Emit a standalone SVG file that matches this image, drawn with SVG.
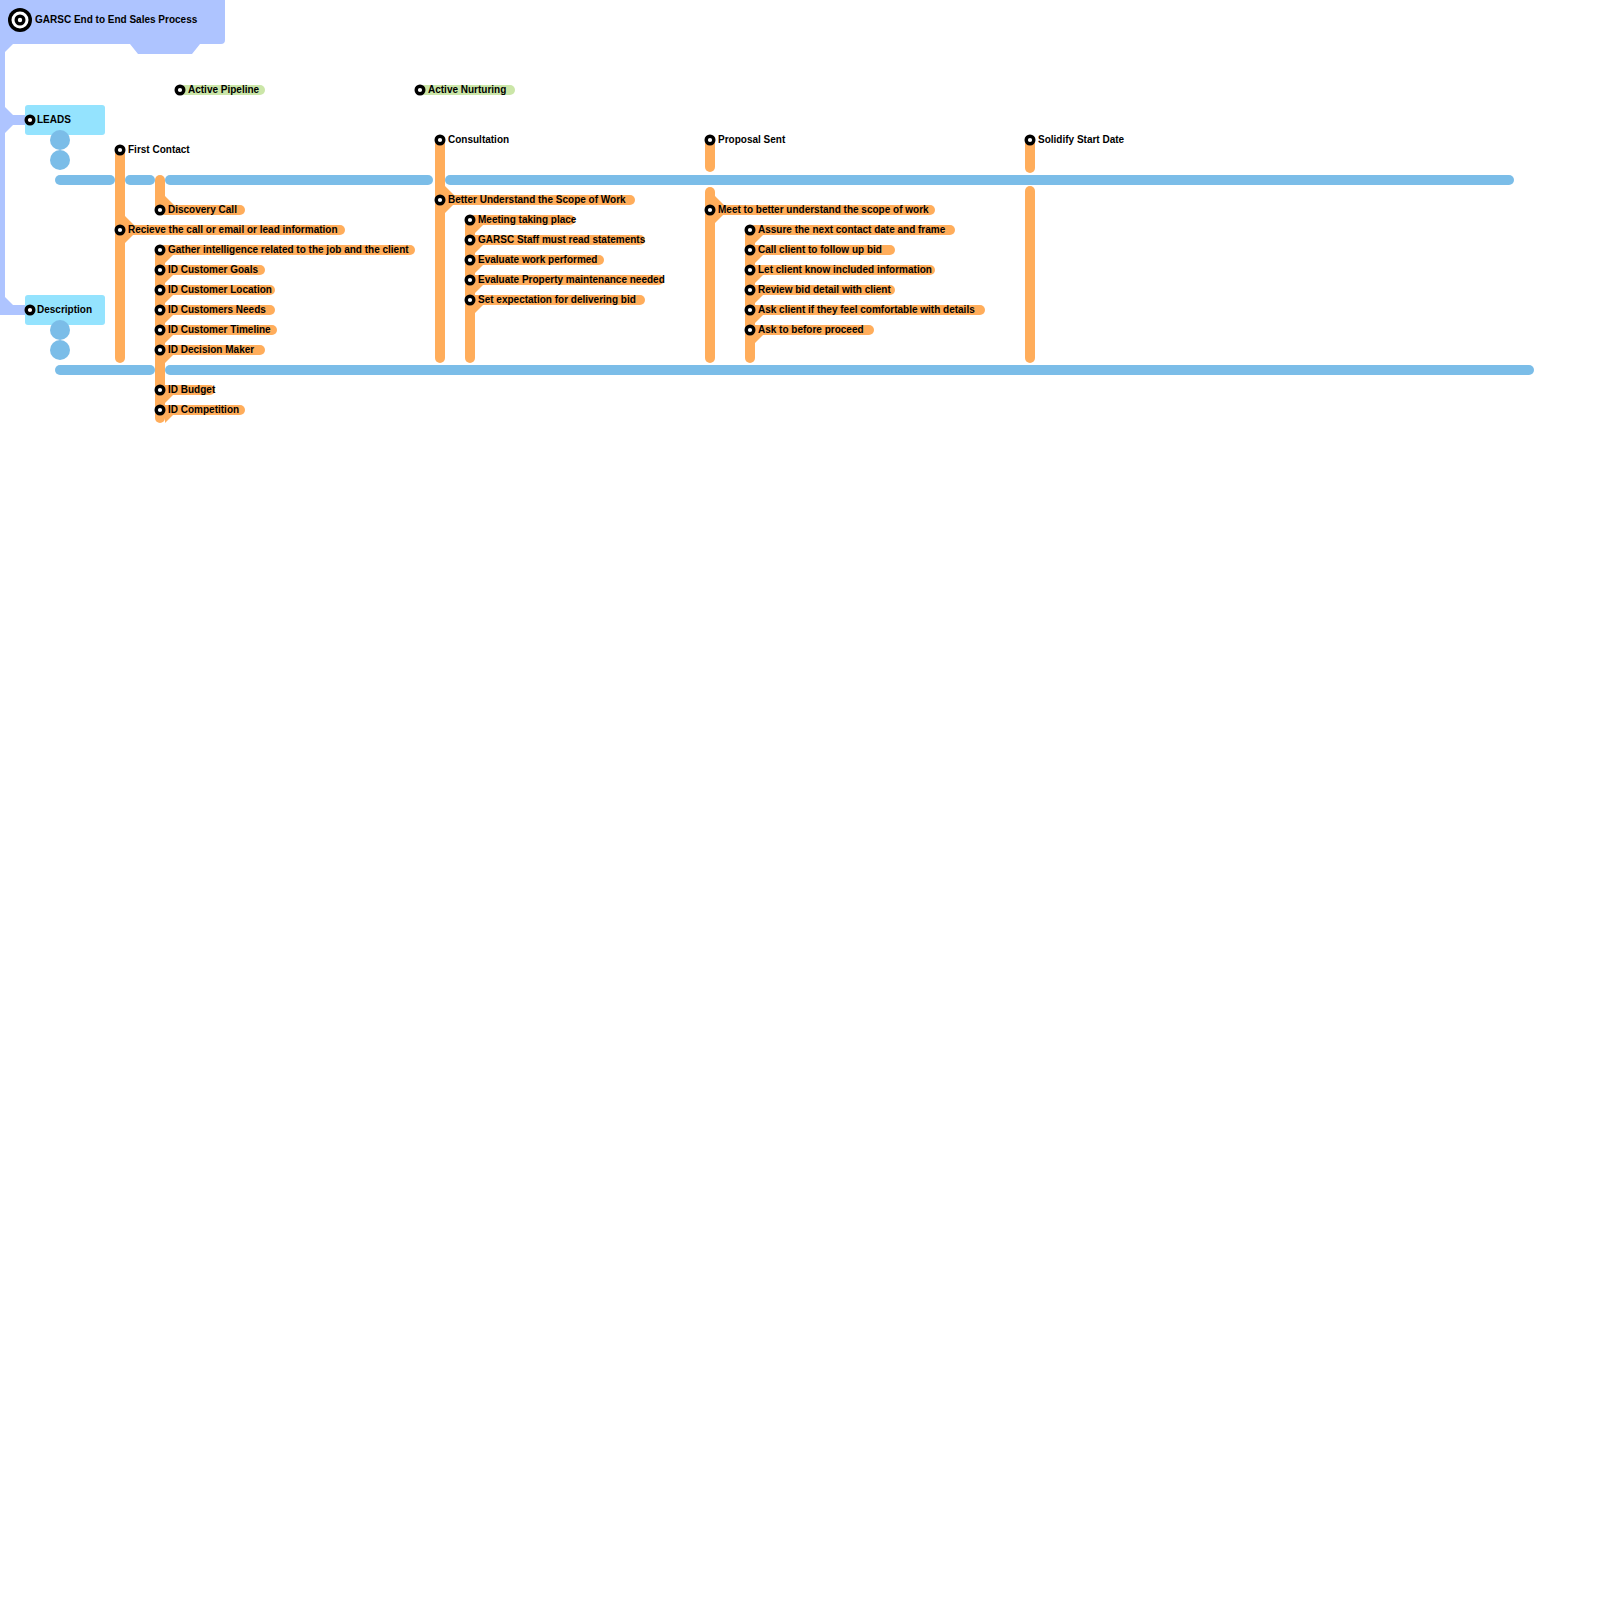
<svg xmlns="http://www.w3.org/2000/svg" width="1600" height="1600" viewBox="0 0 1600 1600">
<style>
.t{font-family:"Liberation Sans",Arial,sans-serif;font-weight:bold;font-size:10px;fill:#000}
.st{fill:#fff;stroke:#000;stroke-width:3.4}
.p{fill:#FFAD5B}
.g{fill:#CBE6A8}
.ov{stroke:#FFAD5B;stroke-width:10;stroke-linecap:round;fill:none}
.bl{stroke:#7BBDE8;stroke-width:10;stroke-linecap:round;fill:none}
.bc{fill:#7BBDE8}
.lav{fill:#AEC4FF}
.box{fill:#94E3FE}
</style>
<rect width="1600" height="1600" fill="#fff"/>
<g id="connectors">
  <path class="lav" d="M0,44 H13 L5,52 V107 L13,115 H25 V125 H13 L5,133 V297 L13,305 H25 V315 H0 Z"/>
  <line class="bl" x1="60" y1="180" x2="110" y2="180"/>
  <line class="bl" x1="130" y1="180" x2="150" y2="180"/>
  <line class="bl" x1="170" y1="180" x2="428" y2="180"/>
  <line class="bl" x1="450" y1="180" x2="1509" y2="180"/>
  <line class="bl" x1="60" y1="370" x2="150" y2="370"/>
  <line class="bl" x1="170" y1="370" x2="1529" y2="370"/>
  <line class="ov" x1="120" y1="150" x2="120" y2="358"/>
  <line class="ov" x1="160" y1="180" x2="160" y2="210"/>
  <line class="ov" x1="160" y1="250" x2="160" y2="418"/>
  <line class="ov" x1="440" y1="140" x2="440" y2="358"/>
  <line class="ov" x1="470" y1="220" x2="470" y2="358"/>
  <line class="ov" x1="710" y1="140" x2="710" y2="167"/>
  <line class="ov" x1="710" y1="192" x2="710" y2="358"/>
  <line class="ov" x1="750" y1="230" x2="750" y2="358"/>
  <line class="ov" x1="1030" y1="140" x2="1030" y2="168"/>
  <line class="ov" x1="1030" y1="191" x2="1030" y2="358"/>
  <path class="p" d="M125,216 L134,225 H125 Z M165,196 L174,205 H165 Z M445,186 L454,195 H445 Z M715,196 L724,205 H715 Z"/>
  <path class="p" d="M125,235 H133 L125,243 Z
    M165,255 H173 L165,263 Z M165,275 H173 L165,283 Z M165,295 H173 L165,303 Z M165,315 H173 L165,323 Z M165,335 H173 L165,343 Z M165,355 H173 L165,363 Z M165,395 H173 L165,403 Z M165,415 H173 L165,423 Z
    M445,205 H453 L445,213 Z
    M475,225 H483 L475,233 Z M475,245 H483 L475,253 Z M475,265 H483 L475,273 Z M475,285 H483 L475,293 Z M475,305 H483 L475,313 Z
    M715,215 H723 L715,223 Z
    M755,235 H763 L755,243 Z M755,255 H763 L755,263 Z M755,275 H763 L755,283 Z M755,295 H763 L755,303 Z M755,315 H763 L755,323 Z M755,335 H763 L755,343 Z"/>
</g>
<g id="title">
  <path class="lav" d="M0,0 H225 V40 Q225,44 221,44 H200 L192,54 H138 L130,44 H0 Z"/>
  <circle cx="20" cy="20" r="12" fill="#000"/>
  <circle cx="20" cy="20" r="8.5" fill="#fff"/>
  <circle cx="20" cy="20" r="5.5" fill="#000"/>
  <circle cx="20" cy="20" r="2.2" fill="#fff"/>
  <text class="t" x="35" y="22.5">GARSC End to End Sales Process</text>
</g>
<g id="leads">
  <rect class="box" x="25" y="105" width="80" height="30" rx="3"/>
  <circle class="st" cx="30" cy="120" r="3.8"/>
  <text class="t" x="37" y="123">LEADS</text>
  <circle class="bc" cx="60" cy="140" r="10"/>
  <circle class="bc" cx="60" cy="160" r="10"/>
</g>
<g id="description">
  <rect class="box" x="25" y="295" width="80" height="30" rx="3"/>
  <circle class="st" cx="30" cy="310" r="3.8"/>
  <text class="t" x="37" y="313">Description</text>
  <circle class="bc" cx="60" cy="330" r="10"/>
  <circle class="bc" cx="60" cy="350" r="10"/>
</g>
<g id="active-pipeline">
  <rect class="g" x="180" y="85" width="85" height="10" rx="5"/>
  <circle class="st" cx="180" cy="90" r="3.8"/>
  <text class="t" x="188" y="93">Active Pipeline</text>
</g>
<g id="active-nurturing">
  <rect class="g" x="420" y="85" width="95" height="10" rx="5"/>
  <circle class="st" cx="420" cy="90" r="3.8"/>
  <text class="t" x="428" y="93">Active Nurturing</text>
</g>
<g id="first-contact">
  <circle class="st" cx="120" cy="150" r="3.8"/>
  <text class="t" x="128" y="153">First Contact</text>
</g>
<g id="recieve">
  <rect class="p" x="120" y="225" width="225" height="10" rx="5"/>
  <circle class="st" cx="120" cy="230" r="3.8"/>
  <text class="t" x="128" y="233">Recieve the call or email or lead information</text>
</g>
<g id="discovery-call">
  <rect class="p" x="160" y="205" width="85" height="10" rx="5"/>
  <circle class="st" cx="160" cy="210" r="3.8"/>
  <text class="t" x="168" y="213">Discovery Call</text>
</g>
<g id="gather">
  <rect class="p" x="160" y="245" width="255" height="10" rx="5"/>
  <circle class="st" cx="160" cy="250" r="3.8"/>
  <text class="t" x="168" y="253">Gather intelligence related to the job and the client</text>
</g>
<g id="id-goals">
  <rect class="p" x="160" y="265" width="105" height="10" rx="5"/>
  <circle class="st" cx="160" cy="270" r="3.8"/>
  <text class="t" x="168" y="273">ID Customer Goals</text>
</g>
<g id="id-location">
  <rect class="p" x="160" y="285" width="115" height="10" rx="5"/>
  <circle class="st" cx="160" cy="290" r="3.8"/>
  <text class="t" x="168" y="293">ID Customer Location</text>
</g>
<g id="id-needs">
  <rect class="p" x="160" y="305" width="115" height="10" rx="5"/>
  <circle class="st" cx="160" cy="310" r="3.8"/>
  <text class="t" x="168" y="313">ID Customers Needs</text>
</g>
<g id="id-timeline">
  <rect class="p" x="160" y="325" width="117" height="10" rx="5"/>
  <circle class="st" cx="160" cy="330" r="3.8"/>
  <text class="t" x="168" y="333">ID Customer Timeline</text>
</g>
<g id="id-decision">
  <rect class="p" x="160" y="345" width="105" height="10" rx="5"/>
  <circle class="st" cx="160" cy="350" r="3.8"/>
  <text class="t" x="168" y="353">ID Decision Maker</text>
</g>
<g id="id-budget">
  <rect class="p" x="160" y="385" width="55" height="10" rx="5"/>
  <circle class="st" cx="160" cy="390" r="3.8"/>
  <text class="t" x="168" y="393">ID Budget</text>
</g>
<g id="id-competition">
  <rect class="p" x="160" y="405" width="85" height="10" rx="5"/>
  <circle class="st" cx="160" cy="410" r="3.8"/>
  <text class="t" x="168" y="413">ID Competition</text>
</g>
<g id="consultation">
  <circle class="st" cx="440" cy="140" r="3.8"/>
  <text class="t" x="448" y="143">Consultation</text>
</g>
<g id="better-understand">
  <rect class="p" x="440" y="195" width="195" height="10" rx="5"/>
  <circle class="st" cx="440" cy="200" r="3.8"/>
  <text class="t" x="448" y="203">Better Understand the Scope of Work</text>
</g>
<g id="meeting">
  <rect class="p" x="470" y="215" width="105" height="10" rx="5"/>
  <circle class="st" cx="470" cy="220" r="3.8"/>
  <text class="t" x="478" y="223">Meeting taking place</text>
</g>
<g id="garsc-staff">
  <rect class="p" x="470" y="235" width="175" height="10" rx="5"/>
  <circle class="st" cx="470" cy="240" r="3.8"/>
  <text class="t" x="478" y="243">GARSC Staff must read statements</text>
</g>
<g id="evaluate-work">
  <rect class="p" x="470" y="255" width="134" height="10" rx="5"/>
  <circle class="st" cx="470" cy="260" r="3.8"/>
  <text class="t" x="478" y="263">Evaluate work performed</text>
</g>
<g id="evaluate-property">
  <rect class="p" x="470" y="275" width="194" height="10" rx="5"/>
  <circle class="st" cx="470" cy="280" r="3.8"/>
  <text class="t" x="478" y="283">Evaluate Property maintenance needed</text>
</g>
<g id="set-expectation">
  <rect class="p" x="470" y="295" width="175" height="10" rx="5"/>
  <circle class="st" cx="470" cy="300" r="3.8"/>
  <text class="t" x="478" y="303">Set expectation for delivering bid</text>
</g>
<g id="proposal-sent">
  <circle class="st" cx="710" cy="140" r="3.8"/>
  <text class="t" x="718" y="143">Proposal Sent</text>
</g>
<g id="meet-better">
  <rect class="p" x="710" y="205" width="225" height="10" rx="5"/>
  <circle class="st" cx="710" cy="210" r="3.8"/>
  <text class="t" x="718" y="213">Meet to better understand the scope of work</text>
</g>
<g id="assure">
  <rect class="p" x="750" y="225" width="205" height="10" rx="5"/>
  <circle class="st" cx="750" cy="230" r="3.8"/>
  <text class="t" x="758" y="233">Assure the next contact date and frame</text>
</g>
<g id="call-client">
  <rect class="p" x="750" y="245" width="145" height="10" rx="5"/>
  <circle class="st" cx="750" cy="250" r="3.8"/>
  <text class="t" x="758" y="253">Call client to follow up bid</text>
</g>
<g id="let-client">
  <rect class="p" x="750" y="265" width="185" height="10" rx="5"/>
  <circle class="st" cx="750" cy="270" r="3.8"/>
  <text class="t" x="758" y="273">Let client know included information</text>
</g>
<g id="review-bid">
  <rect class="p" x="750" y="285" width="145" height="10" rx="5"/>
  <circle class="st" cx="750" cy="290" r="3.8"/>
  <text class="t" x="758" y="293">Review bid detail with client</text>
</g>
<g id="ask-comfortable">
  <rect class="p" x="750" y="305" width="235" height="10" rx="5"/>
  <circle class="st" cx="750" cy="310" r="3.8"/>
  <text class="t" x="758" y="313">Ask client if they feel comfortable with details</text>
</g>
<g id="ask-proceed">
  <rect class="p" x="750" y="325" width="124" height="10" rx="5"/>
  <circle class="st" cx="750" cy="330" r="3.8"/>
  <text class="t" x="758" y="333">Ask to before proceed</text>
</g>
<g id="solidify-start-date">
  <circle class="st" cx="1030" cy="140" r="3.8"/>
  <text class="t" x="1038" y="143">Solidify Start Date</text>
</g>
</svg>
